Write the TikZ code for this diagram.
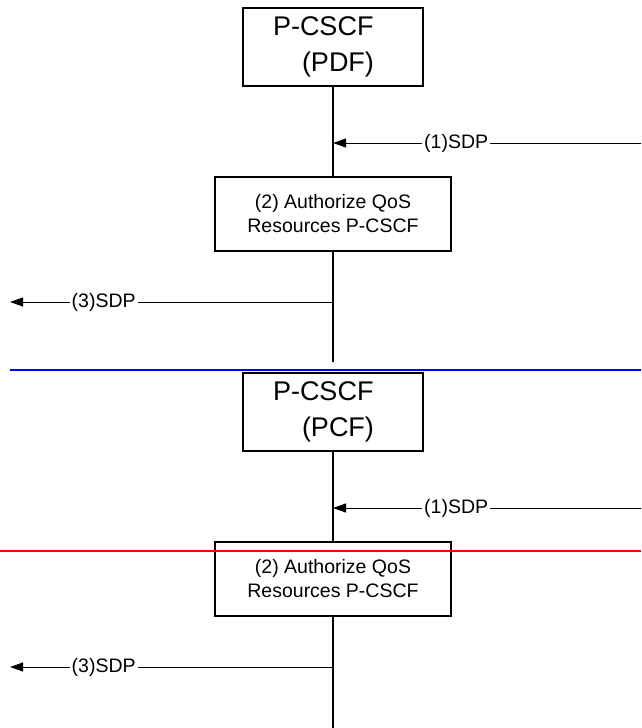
\documentclass[tikz,border=0pt]{standalone}
\usepackage{fontspec}
\setmainfont{Liberation Sans}
\usetikzlibrary{arrows.meta}
\begin{document}
\begin{tikzpicture}[x=1pt,y=-1pt,
    entity/.style={draw,line width=1.4pt,minimum width=180pt,minimum height=78pt,
      text width=120pt,inner xsep=30pt,inner ysep=0pt,align=left,
      font=\fontsize{27}{36}\selectfont},
    action/.style={draw,line width=1.4pt,minimum width=236pt,minimum height=74pt,
      align=center,font=\fontsize{19.5}{24}\selectfont},
    msg/.style={line width=1pt,-{Triangle[length=13pt,width=9pt]}},
    msglabel/.style={fill=white,inner xsep=2pt,inner ysep=1pt,
      font=\fontsize{19.5}{24}\selectfont},
    lifeline/.style={line width=1.4pt}]
  \useasboundingbox (0,0) rectangle (641,728);

  % PDF case
  \node[entity] (pdf) at (333,47) {P-CSCF\\\hspace*{29pt}(PDF)};
  \node[action] (authA) at (333,214) {(2) Authorize QoS\\Resources P-CSCF};
  \coordinate (srcA) at (641,143);
  \coordinate (inA) at (333,143);
  \coordinate (outA) at (333,302);
  \coordinate (dstA) at (10,302);
  \coordinate (endA) at (333,362);

  \draw[lifeline] (pdf) -- (authA);
  \draw[lifeline] (authA) -- (endA);
  \draw[msg] (srcA) to node[msglabel,pos=0.6] {(1)SDP} (inA);
  \draw[msg] (outA) to node[msglabel,pos=0.71] {(3)SDP} (dstA);

  \draw[blue,line width=2.5pt] (10,370) -- (641,370);

  % PCF case
  \node[entity] (pcf) at (333,412) {P-CSCF\\\hspace*{29pt}(PCF)};
  \node[action] (authB) at (333,579) {(2) Authorize QoS\\Resources P-CSCF};
  \coordinate (srcB) at (641,508);
  \coordinate (inB) at (333,508);
  \coordinate (outB) at (333,667);
  \coordinate (dstB) at (10,667);
  \coordinate (endB) at (333,728);

  \draw[lifeline] (pcf) -- (authB);
  \draw[lifeline] (authB) -- (endB);
  \draw[msg] (srcB) to node[msglabel,pos=0.6] {(1)SDP} (inB);
  \draw[msg] (outB) to node[msglabel,pos=0.71] {(3)SDP} (dstB);

  \draw[red,line width=1.6pt] (0,551) -- (641,551);
\end{tikzpicture}
\end{document}
